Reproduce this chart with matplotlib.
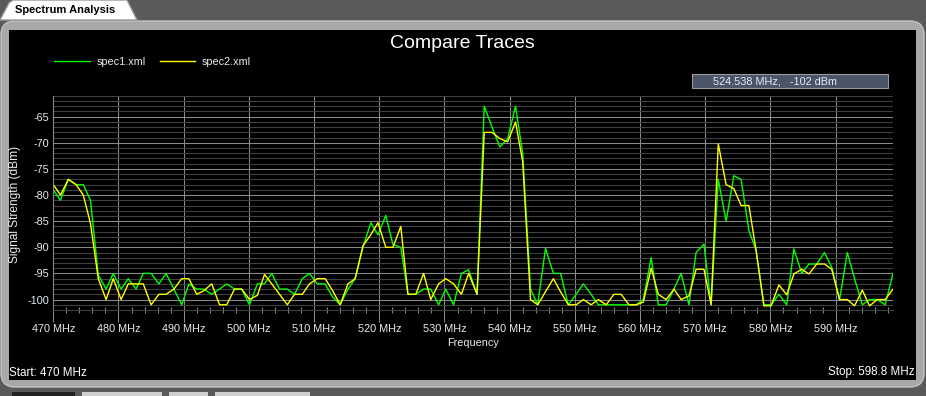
import matplotlib
matplotlib.use("Agg")
import matplotlib.pyplot as plt
from matplotlib.patches import FancyBboxPatch, Rectangle, Polygon
from matplotlib.ticker import MultipleLocator

plt.rcParams['font.family'] = ['Liberation Sans', 'DejaVu Sans']

# sweep points (MHz)
freq_mhz = [470.0, 471.1, 472.3, 473.5, 474.6, 475.7, 476.9, 478.1, 479.2, 480.4,
            481.5, 482.7, 483.8, 485.0, 486.2, 487.3, 488.5, 489.7, 490.8, 492.0,
            493.1, 494.3, 495.5, 496.6, 497.8, 498.9, 500.1, 501.3, 502.4, 503.5,
            504.7, 505.9, 507.0, 508.2, 509.3, 510.5, 511.7, 512.8, 514.0, 515.2,
            516.3, 517.5, 518.7, 519.8, 521.0, 522.1, 523.3, 524.4, 525.6, 526.8,
            527.9, 529.1, 530.2, 531.4, 532.6, 533.7, 535.0, 536.1, 537.3, 538.5,
            539.7, 540.9, 542.0, 543.2, 544.3, 545.5, 546.7, 547.8, 549.0, 550.2,
            551.3, 552.5, 553.6, 554.8, 556.0, 557.1, 558.3, 559.4, 560.5, 561.7,
            562.8, 564.0, 565.2, 566.3, 567.5, 568.6, 569.8, 570.9, 572.0, 573.2,
            574.4, 575.5, 576.7, 577.8, 579.0, 580.1, 581.3, 582.5, 583.6, 584.8,
            585.9, 587.1, 588.3, 589.4, 590.6, 591.8, 592.9, 594.1, 595.2, 596.4,
            597.6, 598.8]

# spec1.xml (green)
spec1_dbm = [-79, -81, -77, -78, -78, -81, -95.3, -98, -95, -98,
             -96, -98, -95, -95, -97, -95, -98, -101, -97, -98,
             -98, -99, -98, -97, -98, -98, -101, -97, -97, -95,
             -98, -98, -99, -96, -95, -97, -97, -99.4, -101, -98,
             -96, -90, -85.3, -87.6, -83.9, -89.5, -90, -99, -99, -98,
             -98, -101, -98, -101, -95, -94.3, -99, -63, -67, -70.8,
             -69.2, -63, -72, -98, -101, -90.2, -95, -95, -101, -99,
             -97, -99, -101, -101, -101, -101, -101, -101, -100, -92,
             -101, -101, -98, -95, -101, -91, -89.4, -101, -77, -85,
             -76.3, -77, -86.8, -90.6, -101, -101, -99, -101, -90.3, -95,
             -93.2, -93.2, -91, -93.8, -100, -91, -96, -101, -100, -100,
             -101, -95]

# spec2.xml (yellow)
spec2_dbm = [-78, -80, -77, -78, -80, -85.4, -96, -100, -96, -100,
             -97, -97, -97, -101, -99, -99, -98, -96, -96, -99,
             -98.3, -97, -101, -101, -98, -98, -100, -99.2, -95.2, -97,
             -99, -101, -99, -99, -97, -96, -96, -98.2, -101, -97,
             -96, -89.7, -87.6, -85.3, -90, -90, -86, -99, -99, -95,
             -100, -97, -96, -97, -99, -95, -99, -68, -68, -69.2,
             -69.8, -66, -73.6, -100, -101, -98.5, -96, -98.5, -101, -101,
             -100, -101, -100, -101, -99, -99, -101, -101, -100.5, -94,
             -99, -100, -98, -100, -99.3, -94.2, -94.2, -101, -70.2, -78,
             -78.8, -82, -82, -90.6, -101.2, -101.2, -97.2, -99.1, -95.1, -94.2,
             -95.1, -93.2, -93.2, -94.2, -100, -100, -101.2, -98.2, -101.2, -100,
             -100, -98]

x_ticks = [470, 480, 490, 500, 510, 520, 530, 540, 550, 560, 570, 580, 590]
x_labels = ["%d MHz" % f for f in x_ticks]
y_ticks = [-100, -95, -90, -85, -80, -75, -70, -65]
y_labels = ["%d" % v for v in y_ticks]

W, H = 926, 396
fig = plt.figure(figsize=(W / 100, H / 100), dpi=100)
fig.patch.set_facecolor('#5a5a5a')

# window chrome, drawn in pixel coordinates
bg = fig.add_axes([0, 0, 1, 1])
bg.set_xlim(0, W)
bg.set_ylim(H, 0)
bg.axis('off')
bg.add_patch(FancyBboxPatch((1, 21), 923, 366, boxstyle='round,pad=0,rounding_size=14',
                            fc='#a8a8a8', ec='#c4c4c4', lw=1))
bg.add_patch(Rectangle((9, 30), 907, 350, fc='black', ec='none'))
bg.add_patch(Polygon([(0, 20), (9, 3), (13, 0), (127, 0), (137, 20)], closed=True,
                     fc='white', ec='#9a9a9a', lw=1))
bg.text(15, 10, "Spectrum Analysis", fontsize=8, fontweight='bold', color='black',
        va='center', ha='left')
for x0, x1, c in [(12, 75, '#222222'), (82, 162, '#cfcfcf'), (169, 208, '#cfcfcf'), (215, 310, '#cfcfcf')]:
    bg.add_patch(Rectangle((x0, 392), x1 - x0, 5, fc=c, ec='none'))

txt = '#e6edf3'
bg.text(462, 43, "Compare Traces", fontsize=14, color='white', ha='center', va='center')
bg.text(15.5, 204, "Signal Strength (dBm)", fontsize=8.6, color=txt, rotation=90,
        ha='center', va='center')
bg.text(473, 343, "Frequency", fontsize=7.8, color=txt, ha='center', va='center')
bg.text(9, 372.5, "Start: 470 MHz", fontsize=8.4, color='white', ha='left', va='center')
bg.text(915, 372.5, "Stop: 598.8 MHz", fontsize=8.4, color='white', ha='right', va='center')
bg.add_patch(Rectangle((692, 74), 196, 14, fc='#4a5568', ec='#9a9a9a', lw=0.8))
bg.text(713, 81, "524.538 MHz,   -102 dBm", fontsize=7.8, color='#e6edf3',
        ha='left', va='center')

# plot area
left, right, top, bottom = 53.3, 893, 95.8, 310
ax = fig.add_axes([left / W, 1 - bottom / H, (right - left) / W, (bottom - top) / H])
ax.set_facecolor('black')
l1, = ax.plot(freq_mhz, spec1_dbm, color='#00ff00', lw=1.0, label='spec1.xml')
l2, = ax.plot(freq_mhz, spec2_dbm, color='#ffff00', lw=1.0, label='spec2.xml')
ax.set_xlim(470, 598.8)
ax.set_ylim(-102, -61)

ax.set_xticks(x_ticks)
ax.set_xticklabels(x_labels)
ax.xaxis.set_minor_locator(MultipleLocator(2))
ax.set_yticks(y_ticks)
ax.set_yticklabels(y_labels)
ax.yaxis.set_minor_locator(MultipleLocator(1))

ax.grid(which='minor', axis='y', color='#404040', lw=0.75)
ax.grid(which='major', axis='y', color='#8a8a8a', lw=0.75)
ax.grid(which='major', axis='x', color='#8a8a8a', lw=0.75)
ax.set_axisbelow(True)

ax.tick_params(axis='x', which='major', direction='out', length=8.6, width=0.75,
               color='#8a8a8a', labelcolor=txt, labelsize=7.8, pad=1.5)
ax.tick_params(axis='x', which='minor', direction='inout', length=4, width=0.75,
               color='#8a8a8a')
ax.tick_params(axis='y', which='both', length=0, labelcolor=txt, labelsize=7.8, pad=3)
for s in ['top', 'right']:
    ax.spines[s].set_visible(False)
ax.spines['left'].set_color('#8a8a8a')
ax.spines['left'].set_linewidth(0.75)
ax.spines['bottom'].set_color('#404040')
ax.spines['bottom'].set_linewidth(0.75)

ax.legend(handles=[l1, l2], loc='center left', bbox_to_anchor=(54, 62),
          bbox_transform=bg.transData, ncol=2, frameon=False, fontsize=7.8,
          labelcolor=txt, handlelength=3.3, handletextpad=0.6, columnspacing=1.3,
          borderpad=0, borderaxespad=0)

fig.savefig('out.png', dpi=100, facecolor=fig.get_facecolor())
